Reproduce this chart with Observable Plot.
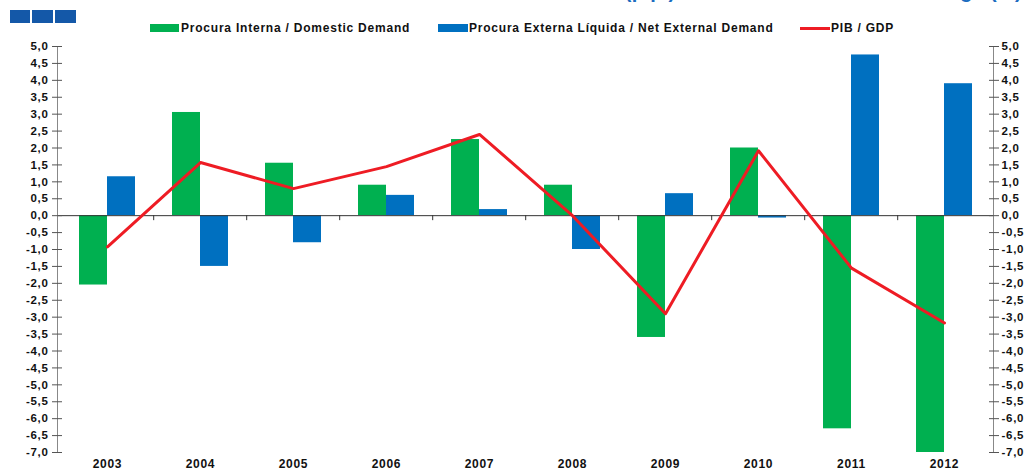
<!DOCTYPE html>
<html><head><meta charset="utf-8">
<script src="https://cdn.jsdelivr.net/npm/d3@7"></script>
<script src="https://cdn.jsdelivr.net/npm/@observablehq/plot@0.6"></script>
<style>
body{margin:0;background:#fff;font-family:"Liberation Sans",Arial,sans-serif;}
#wrap{position:relative;width:1030px;height:472px;overflow:hidden;background:#fff;}
#head{position:relative;height:38px;}
.sq{position:absolute;top:10px;height:13px;background:#1458a8;}
#title{position:absolute;right:8px;top:-20px;font-weight:bold;font-size:20px;color:#1b6cc0;white-space:nowrap;line-height:23px;letter-spacing:0.3px;}
.lg{position:absolute;top:21px;font-weight:bold;font-size:12px;letter-spacing:0.78px;line-height:14px;white-space:nowrap;color:#111;}
.sw{position:absolute;}
</style></head>
<body><div id="wrap"><div id="head"></div><div id="chart"></div></div>
<script>
const years = ["2003","2004","2005","2006","2007","2008","2009","2010","2011","2012"];
const domestic = [-2.05, 3.05, 1.55, 0.9, 2.25, 0.9, -3.6, 2.0, -6.3, -7.0];
const external = [1.15, -1.5, -0.8, 0.6, 0.18, -1.0, 0.65, -0.07, 4.75, 3.9];
const gdp = [-0.92, 1.57, 0.8, 1.45, 2.4, 0.0, -2.9, 1.92, -1.55, -3.17];
const yTicks = d3.range(-14, 11).map(d => d / 2);
const seriesNames = ["Procura Interna / Domestic Demand", "Procura Externa Líquida / Net External Demand", "PIB / GDP"];
const seriesColors = ["#00b050", "#0070c0", "#ee1c24"];
const titleText = "Contributos ao Crescimento do PIB (p.p.) / Contributions to GDP Change (%)";

const data = years.map((y, i) => ({year: y, dom: domestic[i], ext: external[i], gdp: gdp[i]}));
const fmt = d => d.toFixed(1).replace(".", ",");

// header: decoration, clipped title, legend
const head = document.getElementById("head");
[[10,20],[32,21],[55,21]].forEach(([l,w]) => {
  const s = document.createElement("div"); s.className = "sq";
  s.style.left = l + "px"; s.style.width = w + "px"; head.appendChild(s);
});
const t = document.createElement("div"); t.id = "title"; t.textContent = titleText; head.appendChild(t);
const legendPos = [{sx:150, sw:29, tx:181, kind:"rect"}, {sx:438, sw:30, tx:469, kind:"rect"}, {sx:800, sw:30, tx:831, kind:"line"}];
seriesNames.forEach((name, i) => {
  const p = legendPos[i];
  const sw = document.createElement("div"); sw.className = "sw";
  sw.style.left = p.sx + "px"; sw.style.width = p.sw + "px";
  sw.style.background = seriesColors[i];
  if (p.kind === "rect") { sw.style.top = "24px"; sw.style.height = "8px"; }
  else { sw.style.top = "27px"; sw.style.height = "3px"; }
  head.appendChild(sw);
  const lb = document.createElement("div"); lb.className = "lg";
  lb.style.left = p.tx + "px"; lb.textContent = name; head.appendChild(lb);
});

const half = 28;
const step = 93.6;
const chart = Plot.plot({
  width: 1030,
  height: 434,
  marginLeft: 57,
  marginRight: 37,
  marginTop: 8,
  marginBottom: 20,
  style: {fontFamily: "'Liberation Sans', Arial, sans-serif", letterSpacing: "0.7px", background: "#fff", color: "#111"},
  x: {domain: years, paddingInner: 0.4, paddingOuter: 0.2},
  y: {domain: [-7, 5]},
  marks: [
    Plot.barY(data, {x: "year", y: "dom", fill: seriesColors[0], insetRight: half}),
    Plot.barY(data, {x: "year", y: "ext", fill: seriesColors[1], insetLeft: half}),
    Plot.ruleY([0], {stroke: "#333", strokeWidth: 1}),
    Plot.ruleX(years.slice(1), {y1: 0, y2: 0, insetBottom: -5, dx: -step / 2, stroke: "#333"}),
    Plot.frame({anchor: "left", stroke: "#888"}),
    Plot.frame({anchor: "right", stroke: "#888"}),
    Plot.axisY({anchor: "left", ticks: yTicks, tickSize: 10, dx: 5, tickFormat: () => "", label: null, stroke: "#555"}),
    Plot.axisY({anchor: "right", ticks: yTicks, tickSize: 10, dx: -5, tickFormat: () => "", label: null, stroke: "#555"}),
    Plot.axisY({anchor: "left", ticks: yTicks, tickSize: 0, tickPadding: 9, tickFormat: fmt, label: null, fontSize: 11.5, fontWeight: "bold"}),
    Plot.axisY({anchor: "right", ticks: yTicks, tickSize: 0, tickPadding: 8, tickFormat: fmt, label: null, fontSize: 11.5, fontWeight: "bold"}),
    Plot.axisX({anchor: "bottom", tickSize: 0, tickPadding: 7, label: null, fontSize: 12, fontWeight: "bold"}),
    Plot.line(data, {x: "year", y: "gdp", stroke: seriesColors[2], strokeWidth: 3})
  ]
});
document.getElementById("chart").appendChild(chart);
</script>
</body></html>
